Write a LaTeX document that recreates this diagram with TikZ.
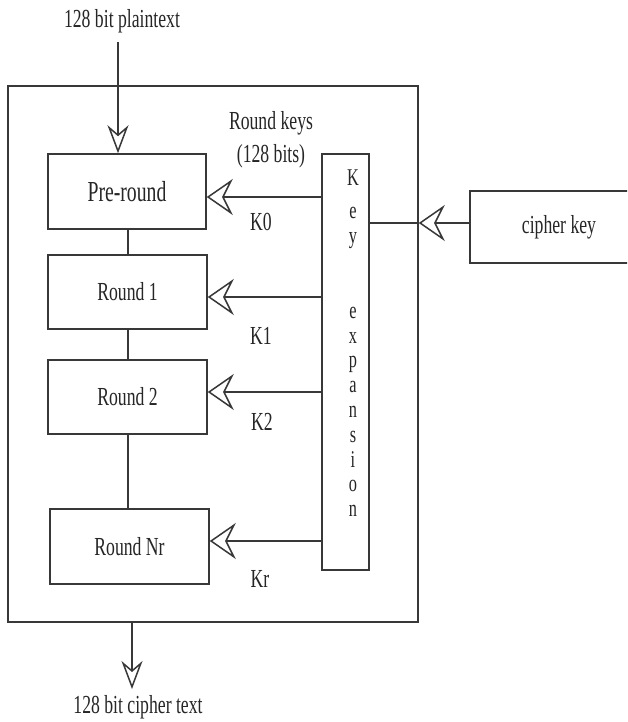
\documentclass[tikz,border=0pt]{standalone}
\usepackage{fontspec}
\setmainfont{Liberation Serif}
\usetikzlibrary{arrows.meta}
\newcommand\sqz[1]{\scalebox{0.68}[1]{#1}}
\tikzset{
  lin/.style={line width=1.5pt, draw=black!78},
  blk/.style={lin, rectangle, inner sep=0pt},
  lbl/.style={text=black!85, inner sep=0pt, font=\fontsize{26}{33}\selectfont},
  varrow/.style={lin, -{Stealth[open, length=28pt, width=21pt, inset=9pt]}},
  harrow/.style={lin, -{Stealth[open, length=26pt, width=36pt, inset=9pt]}},
}
\begin{document}
\begin{tikzpicture}[x=1pt, y=-1pt]
\clip (0,0) rectangle (627,722);
\fill[white] (0,0) rectangle (627,722);

% outer box
\node[blk, minimum width=410pt, minimum height=536pt] (outer) at (213,354) {};

% rounds
\node[blk, minimum width=158pt, minimum height=75pt, lbl, inner sep=0pt, draw] (pre) at (127,191.5)
  {\fontsize{29}{33}\selectfont\sqz{Pre-round}};
\node[blk, minimum width=159pt, minimum height=74pt, lbl, draw] (r1) at (127.5,292) {\sqz{Round 1}};
\node[blk, minimum width=159pt, minimum height=74pt, lbl, draw] (r2) at (127.5,397) {\sqz{Round 2}};
\node[blk, minimum width=159pt, minimum height=75pt, lbl, draw] (rnr) at (129.5,546.5) {\sqz{Round Nr}};

% key expansion
\node[blk, minimum width=47pt, minimum height=416pt] (keyexp) at (345.5,362) {};
\node[lbl, anchor=north, align=center, font=\fontsize{24}{24.8}\selectfont] (keytxt) at (353,170)
  {\sqz{K}\\[8pt]\sqz{e}\\\sqz{y}\\[50pt]\sqz{e}\\\sqz{x}\\\sqz{p}\\\sqz{a}\\\sqz{n}\\\sqz{s}\\\sqz{i}\\\sqz{o}\\\sqz{n}};

% cipher key
\node[blk, minimum width=178pt, minimum height=72pt, lbl, draw] (cipher) at (559,227) {\sqz{cipher key}};

% labels
\node[lbl] (pt) at (122,21) {\sqz{128 bit plaintext}};
\node[lbl] (ct) at (138,707) {\sqz{128 bit cipher text}};
\node[lbl, align=center] (rk) at (271,140) {\sqz{Round keys}\\\sqz{(128 bits)}};
\node[lbl] (k0) at (261,222) {\sqz{K0}};
\node[lbl] (k1) at (261,336) {\sqz{K1}};
\node[lbl] (k2) at (262,422) {\sqz{K2}};
\node[lbl] (kr) at (260,579) {\sqz{Kr}};

% coordinates
\coordinate (ptop) at (118,42);
\coordinate (ctip) at (132,689);

% input / output arrows
\draw[varrow] (ptop) -- (ptop |- pre.north);
\draw[varrow] (outer.south -| ctip) -- (ctip);

% vertical connectors between rounds
\draw[lin] (pre.south -| 128,0) -- (r1.north -| 128,0);
\draw[lin] (r1.south -| 128,0) -- (r2.north -| 128,0);
\draw[lin] (r2.south -| 128,0) -- (rnr.north -| 128,0);

% round key arrows
\draw[harrow] ([yshift=-5.5pt]keyexp.west |- pre.east) -- ([yshift=-5.5pt]pre.east);
\draw[harrow] ([yshift=-5pt]keyexp.west |- r1.east) -- ([yshift=-5pt]r1.east);
\draw[harrow] ([yshift=5pt]keyexp.west |- r2.east) -- ([yshift=5pt]r2.east);
\draw[harrow] ([yshift=5.5pt]keyexp.west |- rnr.east) -- ([yshift=5.5pt]rnr.east);

% cipher key to key expansion
\draw[harrow] ([yshift=4pt]cipher.west) -- ([yshift=4pt]outer.east |- cipher.west);
\draw[lin] ([yshift=4pt]outer.east |- cipher.west) -- ([yshift=4pt]keyexp.east |- cipher.west);
\end{tikzpicture}
\end{document}
